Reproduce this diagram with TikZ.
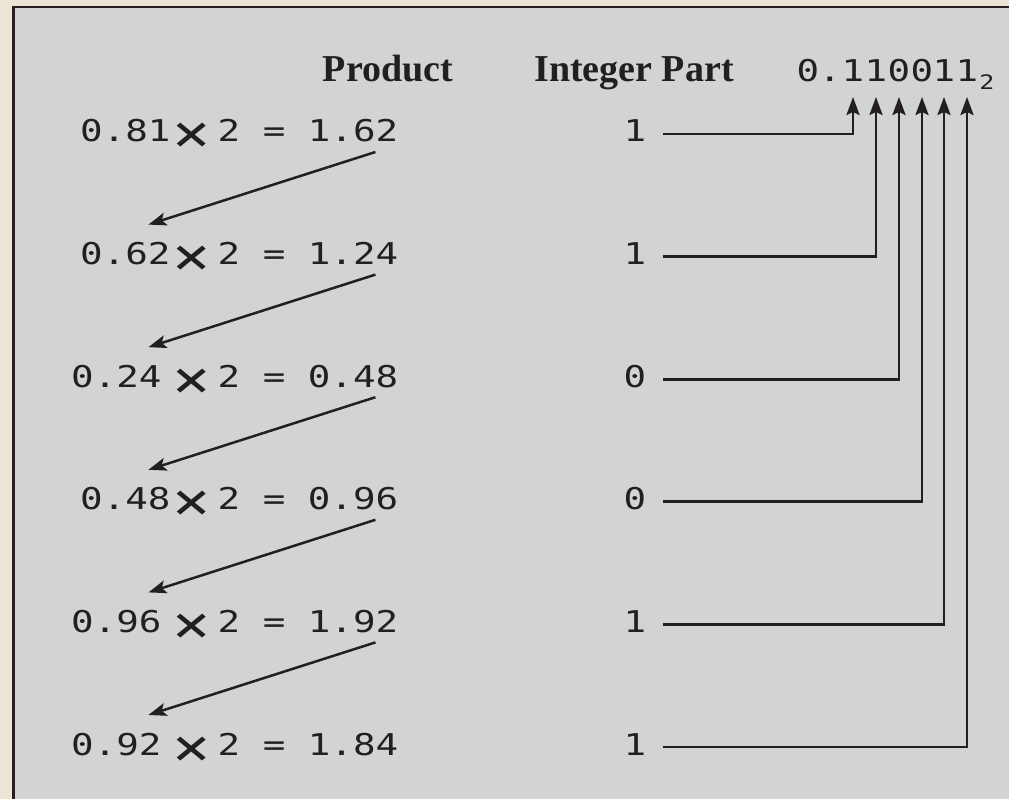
\documentclass[tikz,border=0pt]{standalone}
\usepackage{fontspec}
\newfontfamily\monof[FakeStretch=1.25]{DejaVu Sans Mono}
\newfontfamily\headf{Liberation Serif}
\usetikzlibrary{arrows.meta}
\definecolor{ink}{HTML}{231F20}
\definecolor{panel}{RGB}{210,211,213}
\definecolor{beige}{RGB}{236,229,214}
\newcommand\bigtimes{\makebox[22.6pt][c]{\raisebox{-10pt}{\scalebox{1.7}[1.75]{×}}}}
\tikzset{
  expr/.style={font=\monof\fontsize{30}{36}\selectfont, text=ink, inner sep=0pt, anchor=base west},
  dig/.style={font=\monof\fontsize{30}{36}\selectfont, text=ink, inner sep=0pt, anchor=base},
  subdig/.style={font=\monof\fontsize{20}{24}\selectfont, text=ink, inner sep=0pt, anchor=base},
  head/.style={font=\headf\bfseries\fontsize{38}{44}\selectfont, text=ink, inner sep=0pt, anchor=base},
  conn/.style={draw=ink, line width=2.7pt, -{Stealth[length=18pt,width=13pt,inset=3pt]}},
  darr/.style={draw=ink, line width=2.5pt, -{Stealth[length=18pt,width=13pt,inset=4pt]}}
}
\begin{document}
\begin{tikzpicture}[x=1pt,y=-1pt]
\useasboundingbox (0,0) rectangle (1009,799);
\fill[beige] (0,0) rectangle (1009,799);
\fill[panel] (13.5,7) rectangle (1009,799);
\draw[ink, line width=2.8pt] (13.5,799) -- (13.5,7) -- (1009,7);

% headers
\node[head] (hp) at (388,82) {Product};
\node[head] (hi) at (634,82) {Integer Part};
\node[dig] (t0) at (808,82) {0};
\node[dig] (tp) at (830,82) {.};
\node[dig] (b1) at (853,82) {1};
\node[dig] (b2) at (876,82) {1};
\node[dig] (b3) at (899,82) {0};
\node[dig] (b4) at (922,82) {0};
\node[dig] (b5) at (944,82) {1};
\node[dig] (b6) at (967,82) {1};
\node[subdig] (ts) at (987,90) {2};

% products
\node[expr] (e1) at (80,142)   {0.81\kern9.75pt\bigtimes\kern14.75pt2 = 1.62};
\node[expr] (e2) at (80,264.6) {0.62\kern9.75pt\bigtimes\kern14.75pt2 = 1.24};
\node[expr] (e3) at (71,387.2) {0.24\kern18.75pt\bigtimes\kern14.75pt2 = 0.48};
\node[expr] (e4) at (80,509.8) {0.48\kern9.75pt\bigtimes\kern14.75pt2 = 0.96};
\node[expr] (e5) at (71,632.4) {0.96\kern18.75pt\bigtimes\kern14.75pt2 = 1.92};
\node[expr] (e6) at (71,755)   {0.92\kern18.75pt\bigtimes\kern14.75pt2 = 1.84};

% integer parts
\node[dig] (i1) at (635,142)   {1};
\node[dig] (i2) at (635,264.6) {1};
\node[dig] (i3) at (635,387.2) {0};
\node[dig] (i4) at (635,509.8) {0};
\node[dig] (i5) at (635,632.4) {1};
\node[dig] (i6) at (635,755)   {1};

% diagonal arrows
\draw[darr] ([shift={(-23,10)}]e1.base east) -- ([shift={(-250,-40)}]e2.base east);
\draw[darr] ([shift={(-23,10)}]e2.base east) -- ([shift={(-250,-40)}]e3.base east);
\draw[darr] ([shift={(-23,10)}]e3.base east) -- ([shift={(-250,-40)}]e4.base east);
\draw[darr] ([shift={(-23,10)}]e4.base east) -- ([shift={(-250,-40)}]e5.base east);
\draw[darr] ([shift={(-23,10)}]e5.base east) -- ([shift={(-250,-40)}]e6.base east);

% connectors to the binary digits
\draw[conn] ([shift={(17,-8)}]i1.base east) -| ([shift={(0,15)}]b1.base);
\draw[conn] ([shift={(17,-8)}]i2.base east) -| ([shift={(0,15)}]b2.base);
\draw[conn] ([shift={(17,-8)}]i3.base east) -| ([shift={(0,15)}]b3.base);
\draw[conn] ([shift={(17,-8)}]i4.base east) -| ([shift={(0,15)}]b4.base);
\draw[conn] ([shift={(17,-8)}]i5.base east) -| ([shift={(0,15)}]b5.base);
\draw[conn] ([shift={(17,-8)}]i6.base east) -| ([shift={(0,15)}]b6.base);
\end{tikzpicture}
\end{document}
